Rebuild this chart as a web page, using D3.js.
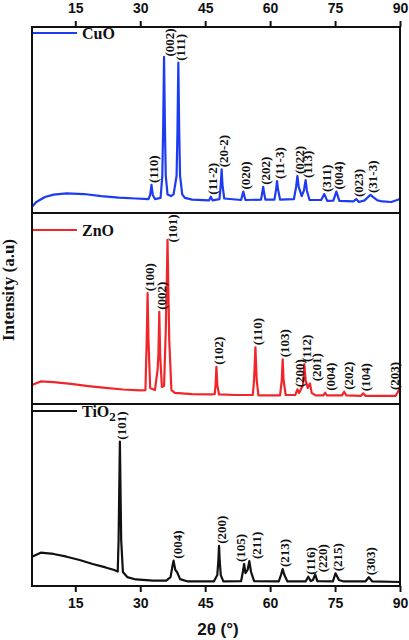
<!DOCTYPE html>
<html>
<head>
<meta charset="utf-8">
<script src="https://cdn.jsdelivr.net/npm/d3@7/dist/d3.min.js"></script>
<style>
  body { margin: 0; background: #fff; }
</style>
</head>
<body>
<svg id="chart" width="409" height="640"></svg>
<script>
// 2-theta tick values (shared by top and bottom axis)
const xTicks = [15, 30, 45, 60, 75, 90];

// CuO pattern, [2theta, intensity a.u.]
const cuoPattern = [
  [5, 34], [6, 59], [8, 86], [10, 99], [13, 105], [17, 102], [21, 91], [25, 83], [29, 78],
  [31.9, 75], [32.3, 97], [32.6, 151], [32.9, 97], [33.4, 75],
  [34.7, 81], [35.1, 200], [35.3, 463], [35.5, 840], [35.7, 463], [35.9, 200], [36.3, 100],
  [37.1, 91], [37.7, 100], [38.4, 200], [38.6, 440], [38.8, 808], [39.0, 440], [39.2, 200],
  [39.7, 100], [40.3, 81], [42, 72], [45.9, 68], [46.3, 88], [46.7, 68],
  [48.3, 75], [48.6, 150], [48.8, 235], [49.0, 150], [49.4, 78],
  [53.3, 70], [53.8, 115], [54.3, 70],
  [57.9, 72], [58.2, 110], [58.4, 141], [58.6, 110], [58.9, 72],
  [61.0, 72], [61.4, 130], [61.6, 172], [61.8, 130], [62.3, 72],
  [65.5, 75], [66.0, 140], [66.3, 199], [66.6, 140], [67.3, 91], [67.8, 120], [68.2, 177],
  [68.5, 120], [69.1, 70], [71.8, 70], [72.5, 102], [73.2, 65],
  [74.6, 67], [75.3, 115], [76.0, 65], [79.2, 62], [79.9, 75], [80.5, 59],
  [81.8, 68], [82.6, 85], [83.2, 97], [83.8, 85], [84.8, 68], [86, 62], [88, 59], [90, 75]
];
const cuoPeaks = [32.6, 35.5, 38.8, 46.3, 48.8, 53.8, 58.4, 61.6, 66.3, 68.2, 72.5, 75.3, 79.9, 83.2];
const cuoLabels = ["(110)", "(002)", "(111)", "(11-2)", "(20-2)", "(020)", "(202)", "(11-3)",
  "(022)", "(113)", "(311)", "(004)", "(023)", "(31-3)"];

// ZnO pattern
const znoPattern = [
  [5, 99], [7, 118], [10, 115], [14, 105], [18, 94], [22, 84], [26, 76], [30, 71],
  [31.2, 73], [31.5, 335], [31.7, 580], [31.9, 335], [32.3, 84], [33.4, 73],
  [34.0, 178], [34.2, 257], [34.4, 483], [34.6, 257], [35.0, 89], [35.5, 94],
  [35.9, 387], [36.1, 597], [36.3, 859], [36.5, 597], [36.7, 335], [37.2, 73],
  [38, 58], [42, 52], [46, 50], [47.2, 52], [47.4, 99], [47.6, 195], [47.8, 99], [48.2, 50],
  [52, 47], [56, 47], [56.3, 126], [56.6, 297], [56.9, 126], [57.3, 45],
  [62.3, 45], [62.7, 126], [62.9, 234], [63.1, 126], [63.6, 47],
  [65.8, 47], [66.3, 77], [66.7, 58], [67.6, 99], [67.9, 209], [68.2, 126], [68.7, 84],
  [69.2, 108], [69.6, 58], [70.5, 45], [72.3, 45], [72.7, 59], [73.1, 45],
  [76.6, 45], [77.1, 64], [77.6, 45], [81.0, 43], [81.5, 56], [82.0, 43],
  [89.0, 43], [89.5, 63], [90, 85]
];
const znoPeaks = [31.7, 34.4, 36.3, 47.6, 56.6, 62.9, 66.3, 67.9, 69.2, 72.7, 77.1, 81.5, 89.5];
const znoLabels = ["(100)", "(002)", "(101)", "(102)", "(110)", "(103)", "(200)", "(112)",
  "(201)", "(004)", "(202)", "(104)", "(203)"];

// TiO2 pattern
const tioPattern = [
  [5, 161], [7, 183], [10, 176], [13, 161], [16, 143], [19, 121], [22, 102], [24, 88],
  [24.8, 79], [25.0, 253], [25.15, 528], [25.3, 793], [25.45, 528], [25.6, 253], [26.0, 77],
  [27, 49], [29, 36], [33, 30], [36, 30], [37.0, 49], [37.4, 104], [37.7, 139], [38.1, 88],
  [38.5, 77], [39.2, 38], [41, 25], [47, 25], [47.8, 60], [48.05, 143], [48.2, 221],
  [48.35, 143], [48.6, 60], [49.2, 25], [53.3, 27], [53.7, 77], [54.0, 121], [54.3, 71],
  [54.8, 88], [55.2, 137], [55.6, 77], [56.3, 27], [62.0, 25], [62.5, 60], [62.9, 93],
  [63.3, 60], [64.0, 25], [68.2, 25], [68.8, 51], [69.4, 27], [69.9, 33], [70.4, 64],
  [70.9, 27], [74.5, 25], [75.1, 70], [75.9, 33], [77, 25], [82.0, 25], [82.8, 48],
  [83.6, 25], [90, 22]
];
const tioPeaks = [25.3, 37.7, 48.2, 54.0, 55.2, 62.9, 68.8, 70.4, 75.1, 82.8];
const tioLabels = ["(101)", "(004)", "(200)", "(105)", "(211)", "(213)", "(116)", "(220)",
  "(215)", "(303)"];

const svg = d3.select("#chart");
const plotLeft = 32, plotRight = 400, plotTop = 27, plotBottom = 586;

const x = d3.scaleLinear().domain([5, 90]).range([plotLeft, plotRight]);

// sideways nudges (px) for crowded labels
const nudge = {
  "ZnO(201)": 5, "ZnO(004)": 3, "ZnO(202)": 2, "ZnO(203)": -5,
  "TiO2(105)": -6, "TiO2(211)": 5, "TiO2(220)": 5, "TiO2(004)": 2
};

const panels = [
  { key: "CuO", name: "CuO", data: cuoPattern, peaks: cuoPeaks, labels: cuoLabels,
    color: "#1d3cf2", y0: 27, y1: 213, legendY: 6 },
  { key: "ZnO", name: "ZnO", data: znoPattern, peaks: znoPeaks, labels: znoLabels,
    color: "#f0262a", y0: 213, y1: 404, legendY: 17 },
  { key: "TiO2", name: "TiO", sub: "2", data: tioPattern, peaks: tioPeaks, labels: tioLabels,
    color: "#111111", y0: 404, y1: 586, legendY: 7 }
];

panels.forEach(p => {
  const y = d3.scaleLinear().domain([0, 1000]).range([p.y1, p.y0]);
  const line = d3.line().x(d => x(d[0])).y(d => y(d[1]));

  svg.append("path")
    .datum(p.data)
    .attr("d", line)
    .attr("fill", "none")
    .attr("stroke", p.color)
    .attr("stroke-width", 2.2)
    .attr("stroke-linejoin", "round");

  // peak labels, sitting just above each peak
  p.peaks.forEach((t, i) => {
    const pt = p.data.find(d => d[0] === t);
    const lab = p.labels[i];
    let px = x(t) + 2 + (nudge[p.key + lab] || 0);
    let py = y(pt[1]) - 2;
    const len = lab.length * 5.7;
    if (py - len < p.y0 + 1) { py = p.y0 + 1 + len; px += 3; }
    svg.append("text")
      .attr("transform", `translate(${px},${py}) rotate(-90)`)
      .attr("dominant-baseline", "central")
      .attr("font-family", "'Liberation Serif', 'Times New Roman', serif")
      .attr("font-weight", "bold")
      .attr("font-size", "13px")
      .attr("fill", "#111")
      .text(lab);
  });

  // legend
  const ly = p.y0 + p.legendY;
  svg.append("line")
    .attr("x1", plotLeft + 1).attr("x2", plotLeft + 45)
    .attr("y1", ly).attr("y2", ly)
    .attr("stroke", p.color)
    .attr("stroke-width", 2);
  const lt = svg.append("text")
    .attr("x", plotLeft + 50).attr("y", ly + 6)
    .attr("font-family", "'Liberation Serif', 'Times New Roman', serif")
    .attr("font-weight", "bold")
    .attr("font-size", "16px")
    .attr("fill", "#111")
    .text(p.name);
  if (p.sub) {
    lt.append("tspan").attr("dy", 4).attr("font-size", "13px").text(p.sub);
  }

  // separator / frame
  svg.append("line")
    .attr("x1", plotLeft).attr("x2", plotRight)
    .attr("y1", p.y1).attr("y2", p.y1)
    .attr("stroke", "#111")
    .attr("stroke-width", 2);
});

// outer frame
svg.append("rect")
  .attr("x", plotLeft).attr("y", plotTop)
  .attr("width", plotRight - plotLeft).attr("height", plotBottom - plotTop)
  .attr("fill", "none")
  .attr("stroke", "#111")
  .attr("stroke-width", 2);

// top and bottom axes
const topAxis = svg.append("g")
  .attr("transform", `translate(0,${plotTop})`)
  .call(d3.axisTop(x).tickValues(xTicks).tickSize(6).tickPadding(8));
const bottomAxis = svg.append("g")
  .attr("transform", `translate(0,${plotBottom})`)
  .call(d3.axisBottom(x).tickValues(xTicks).tickSize(6).tickPadding(6));

[topAxis, bottomAxis].forEach(g => {
  g.select(".domain").remove();
  g.selectAll("line").attr("stroke", "#111").attr("stroke-width", 2);
  g.selectAll("text")
    .attr("font-family", "'Liberation Sans', Arial, sans-serif")
    .attr("font-weight", "bold")
    .attr("font-size", "14px")
    .attr("fill", "#111");
});

// axis titles
svg.append("text")
  .attr("x", (plotLeft + plotRight) / 2 + 2)
  .attr("y", 635)
  .attr("text-anchor", "middle")
  .attr("font-family", "'Liberation Sans', Arial, sans-serif")
  .attr("font-weight", "bold")
  .attr("font-size", "17px")
  .attr("fill", "#111")
  .text("2θ (°)");

svg.append("text")
  .attr("transform", "translate(14,290) rotate(-90)")
  .attr("text-anchor", "middle")
  .attr("font-family", "'Liberation Serif', 'Times New Roman', serif")
  .attr("font-weight", "bold")
  .attr("font-size", "17px")
  .attr("fill", "#111")
  .text("Intensity (a.u)");
</script>
</body>
</html>
